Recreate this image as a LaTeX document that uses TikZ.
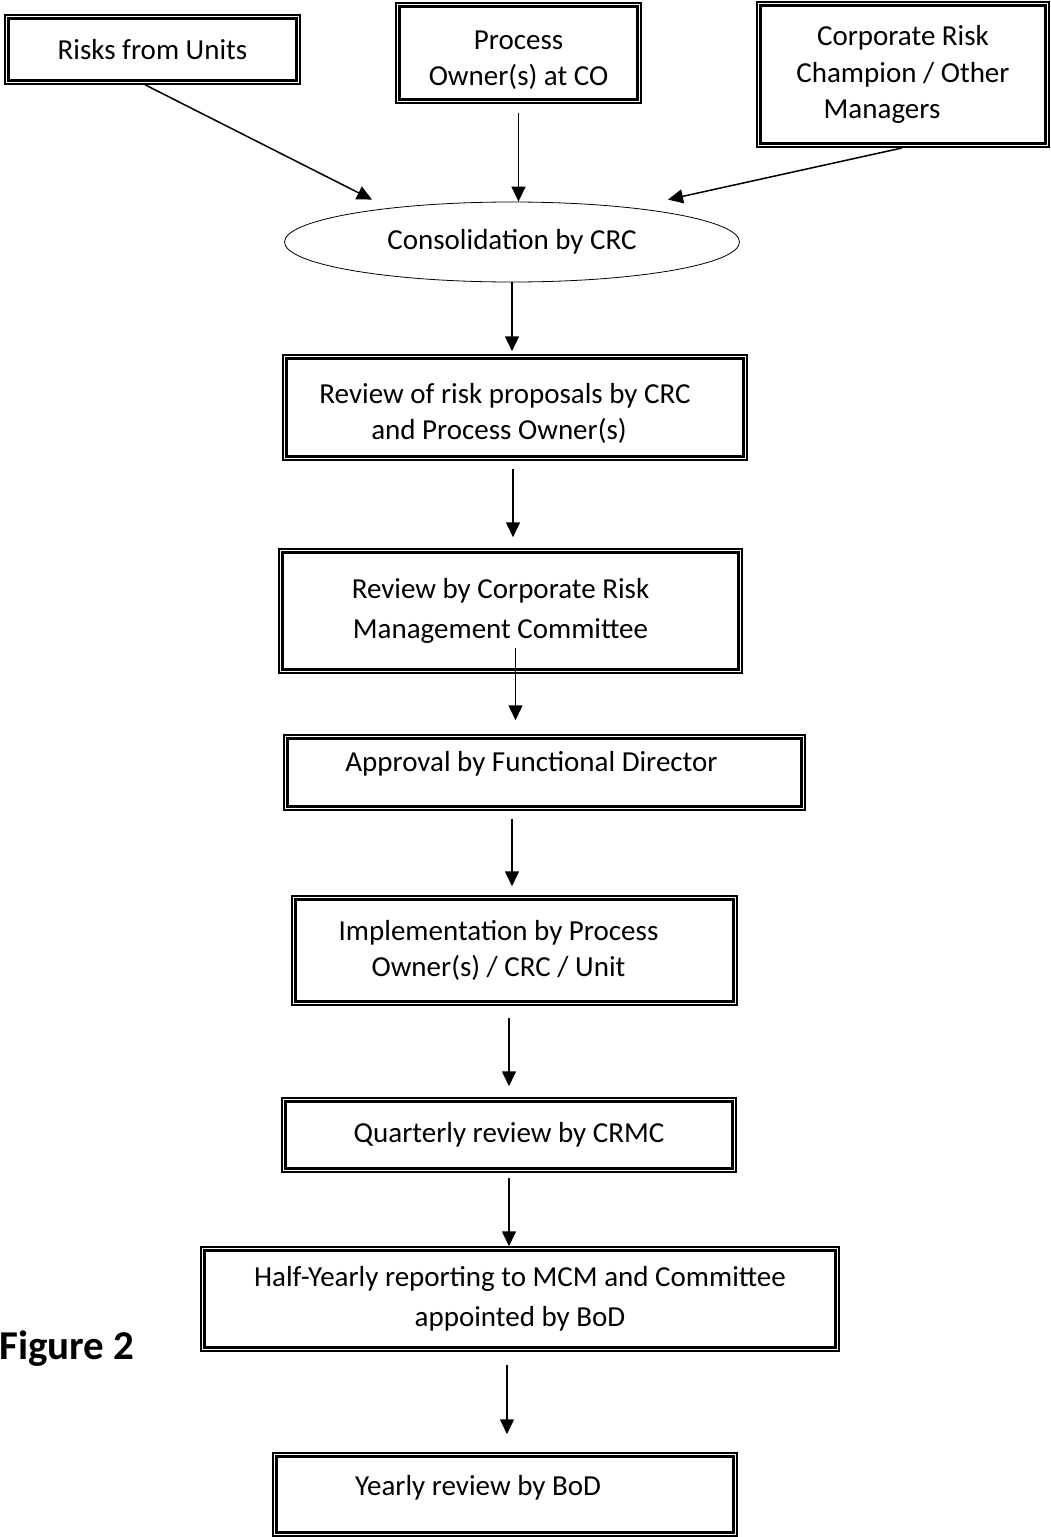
\documentclass[tikz,border=0pt]{standalone}
\usepackage{fontspec}
\setmainfont{Carlito}
\usetikzlibrary{arrows.meta,shapes.geometric}

\begin{document}
\begin{tikzpicture}[x=1pt,y=-1pt]
    \begin{scope}[stage/.style={draw,line width=1.5pt,inner sep=0pt,align=center,font=\fontsize{29}{36.5}\selectfont},
                  flow/.style={line width=1.5pt,-{Triangle[length=15pt,width=14pt]}}]
        \useasboundingbox (0,0) rectangle (1051,1537);
        \node[stage,minimum width=295pt,minimum height=69pt] (risks) at (152.5,49.5) {Risks from Units};
        \node[stage,minimum width=245pt,minimum height=100pt] (proc) at (518.5,53) {\rule{0pt}{33pt}Process\\Owner(s) at CO};
        \node[stage,minimum width=292pt,minimum height=145pt] (champ) at (903,74.5) {Corporate Risk\\Champion / Other\\\hspace*{-42pt}Managers};
        \node[draw,ellipse,line width=0.8pt,inner sep=0pt,minimum width=455pt,minimum height=80pt,font=\fontsize{29}{36.5}\selectfont] (consol) at (512,242) {Consolidation by CRC};
        \node[stage,minimum width=464pt,minimum height=105pt] (rev1) at (515,407.5) {\rule{0pt}{32pt}\hspace*{-20pt}Review of risk proposals by CRC\\\hspace*{-32pt}and Process Owner(s)};
        \node[stage,minimum width=463pt,minimum height=124pt,font=\fontsize{29}{40}\selectfont] (rev2) at (510.5,611) {\hspace*{-20pt}Review by Corporate Risk\\\hspace*{-20pt}Management Committee};
        \node[stage,minimum width=521pt,minimum height=75pt,text depth=22pt] (approve) at (544.5,772.5) {\hspace*{-26pt}Approval by Functional Director};
        \node[stage,minimum width=445pt,minimum height=109pt] (impl) at (514.5,950.5) {\hspace*{-32pt}Implementation by Process\\\hspace*{-32pt}Owner(s) / CRC / Unit};
        \node[stage,minimum width=454pt,minimum height=74pt] (quart) at (509,1135) {Quarterly review by CRMC};
        \node[stage,minimum width=638pt,minimum height=104pt,font=\fontsize{29}{39.5}\selectfont] (half) at (520,1299) {Half-Yearly reporting to MCM and Committee\\appointed by BoD};
        \node[stage,minimum width=464pt,minimum height=83pt,text depth=19pt] (yearly) at (505,1494.5) {\hspace*{-54pt}Yearly review by BoD};
        \node[anchor=base west,font=\fontsize{41}{48}\selectfont\bfseries] (fig) at (-4,1359) {Figure 2};
        % inner lines of the double frames
        \foreach \b in {risks,proc,champ,rev1,rev2,approve,impl,quart,half,yearly}
            \draw[line width=2.6pt] ([shift={(4.5pt,-4.5pt)}]\b.north west) rectangle ([shift={(-4.5pt,4.5pt)}]\b.south east);
        \draw[flow] ([xshift=-7.5pt]risks.south) -- ([xshift=-140pt,yshift=2pt]consol.north);
        \draw[flow,shorten <=9pt] (proc.south) -- (proc.south |- consol.north);
        \draw[flow,shorten <=1pt] (champ.south) -- ([xshift=156pt,yshift=2pt]consol.north);
        \draw[flow,shorten >=3pt] (consol.south) -- (consol.south |- rev1.north);
        \draw[flow,shorten <=8pt,shorten >=11pt] ([xshift=-2pt]rev1.south) -- ([xshift=-2pt]rev1.south |- rev2.north);
        \draw[flow,shorten >=14pt] ([xshift=5pt,yshift=26pt]rev2.south) -- ([xshift=5pt]rev2.south |- approve.north);
        \draw[flow,shorten <=8pt,shorten >=9pt] ([xshift=-2.5pt]impl.north |- approve.south) -- ([xshift=-2.5pt]impl.north);
        \draw[flow,shorten <=12pt,shorten >=11pt] (quart.north |- impl.south) -- (quart.north);
        \draw[flow,shorten <=5pt] (quart.south) -- (quart.south |- half.north);
        \draw[flow,shorten <=13pt,shorten >=18pt] ([xshift=2pt]yearly.north |- half.south) -- ([xshift=2pt]yearly.north);
    \end{scope}
\end{tikzpicture}
\end{document}
